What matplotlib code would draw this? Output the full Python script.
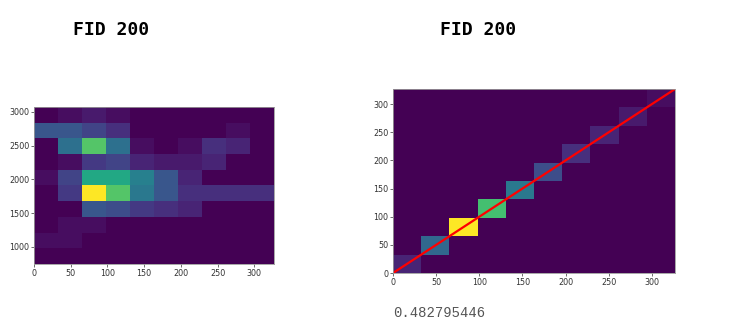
import numpy as np
import matplotlib
matplotlib.use('Agg')
import matplotlib.pyplot as plt

# left 2d histogram: rows from bottom (low y) to top
leftXEdges = np.linspace(0, 327, 11)
leftYEdges = np.linspace(743, 3074, 11)
leftCounts = [
    [0, 0, 0, 0, 0, 0, 0, 0, 0, 0],
    [1, 1, 0, 0, 0, 0, 0, 0, 0, 0],
    [0, 1, 1, 0, 0, 0, 0, 0, 0, 0],
    [0, 0, 8, 7, 5, 4, 3, 0, 0, 0],
    [0, 5, 30, 22, 12, 8, 4, 4, 4, 4],
    [1, 6, 18, 18, 13, 8, 3, 0, 0, 0],
    [0, 1, 5, 6, 3, 2, 2, 3, 0, 0],
    [0, 11, 22, 11, 1, 0, 1, 4, 3, 0],
    [8, 8, 6, 4, 0, 0, 0, 0, 1, 0],
    [0, 1, 2, 1, 0, 0, 0, 0, 0, 0],
]

# right 2d histogram: only the diagonal is filled
rightEdges = np.linspace(0, 327, 11)
rightDiag = [3, 10, 30, 21, 12, 7, 4, 3, 2, 1]
lineX = [0, 327]
lineY = [0, 327]

scoreText = "0.482795446"
titleText = "FID 200"

fig = plt.figure(figsize=(7.3, 3.24), dpi=100)

#Left heatmap
ax1 = fig.add_axes([0.0466, 0.1852, 0.3288, 0.4846])
ax1.pcolormesh(leftXEdges, leftYEdges, np.array(leftCounts), cmap='viridis', vmin=0, vmax=30)
ax1.set_xlim(leftXEdges[0], leftXEdges[-1])
ax1.set_ylim(leftYEdges[0], leftYEdges[-1])
ax1.set_xticks([0, 50, 100, 150, 200, 250, 300])
ax1.set_yticks([1000, 1500, 2000, 2500, 3000])

#Right heatmap
ax2 = fig.add_axes([0.5384, 0.1574, 0.3863, 0.5679])
rightCounts = np.diag(rightDiag)
ax2.pcolormesh(rightEdges, rightEdges, rightCounts, cmap='viridis', vmin=0, vmax=30)
ax2.plot(lineX, lineY, color='red', lw=1.6)
ax2.set_xlim(rightEdges[0], rightEdges[-1])
ax2.set_ylim(rightEdges[0], rightEdges[-1])
ax2.set_xticks([0, 50, 100, 150, 200, 250, 300])
ax2.set_yticks([0, 50, 100, 150, 200, 250, 300])

for ax in [ax1, ax2]:
    ax.tick_params(labelsize=5.8, length=2, width=0.5, pad=1.5, colors='#333333')
    for s in ax.spines.values():
        s.set_color('#999999')
        s.set_linewidth(0.6)

#Titles and score
fig.text(111/730, 1 - 30/324, titleText, ha='center', va='center',
         family='DejaVu Sans Mono', weight='bold', fontsize=13)
fig.text(478/730, 1 - 30/324, titleText, ha='center', va='center',
         family='DejaVu Sans Mono', weight='bold', fontsize=13)
fig.text(393/730, 1 - 313/324, scoreText, ha='left', va='center',
         family='Liberation Mono', fontsize=10, color='#555555')

plt.savefig('out.png', dpi=100)
plt.close()
